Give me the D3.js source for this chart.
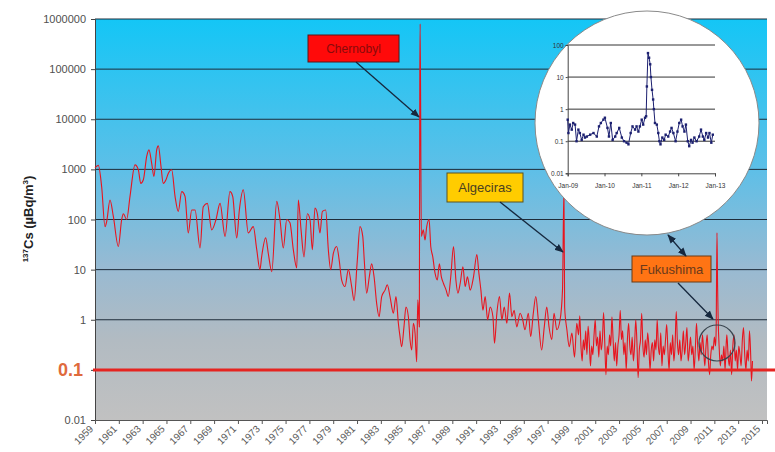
<!DOCTYPE html>
<html lang="en">
<head>
<meta charset="utf-8">
<title>137Cs</title>
<script src="https://d3js.org/d3.v7.min.js"></script>
<style>
  body { margin: 0; background: #fff; }
  svg { display: block; font-family: Arial, "Liberation Sans", sans-serif; }
</style>
</head>
<body>
<div id="chart"></div>
<script>

// y axis decades and x axis years
const yTicks = [0.01, 0.1, 1, 10, 100, 1000, 10000, 100000, 1000000];
const xTicks = d3.range(1959, 2016, 2);

// [year, µBq/m3]
const bombTests = [
  [1959.00,1070],[1959.28,1200],[1959.56,450],[1959.84,72],[1959.98,91],[1960.26,245],[1960.54,115],
  [1960.96,29],[1961.24,100],[1961.38,130],[1961.66,100],[1961.94,290],[1962.36,1230],[1962.64,980],
  [1962.84,525],[1963.06,620],[1963.34,1820],[1963.53,2450],[1963.76,1320],[1963.95,720],[1964.18,2450],
  [1964.32,2950],[1964.54,1150],[1964.73,525],[1964.96,620],[1965.15,830],[1965.44,980],[1965.72,290],
  [1965.99,145],[1966.28,360],[1966.56,290],[1966.83,54],[1967.12,155],[1967.40,155],[1967.82,27],
  [1968.09,180],[1968.43,210],[1968.80,62],[1969.16,100],[1969.50,210],[1969.92,46],[1970.33,360],
  [1970.56,290],[1970.90,43],[1971.12,155],[1971.45,390],[1971.87,54],[1972.29,72],[1972.58,25],
  [1972.85,10],[1972.99,18],[1973.33,43],[1973.55,21],[1973.84,9.1],[1974.26,230],[1974.53,100],
  [1974.81,27],[1975.10,100],[1975.37,86],[1975.65,25],[1975.94,10.8],[1976.07,245],[1976.30,62],
  [1976.55,18],[1976.83,130],[1977.05,100],[1977.25,25],[1977.47,170],[1977.67,130],[1977.89,54],
  [1978.09,145],[1978.37,155],[1978.59,25],[1978.79,10],[1979.01,21],[1979.29,29],[1979.51,15],
  [1979.71,6.2],[1979.99,4.6],[1980.27,10],[1980.55,4.6],[1980.75,2.4],[1981.02,15],[1981.25,72],
  [1981.48,46],[1981.61,15],[1981.81,3.4],[1982.03,7.2],[1982.23,13],[1982.43,7.2],[1982.65,2.1],
  [1982.85,1.15],[1983.07,2.9],[1983.35,3.9],[1983.54,5.0],[1983.77,2.9],[1984.05,1.35],[1984.27,2.9],
  [1984.47,0.85],[1984.61,0.46],[1984.75,0.29],[1984.94,0.72],[1985.11,1.8],[1985.31,1.15],[1985.45,0.40],
  [1985.59,0.25],[1985.73,0.85],[1985.87,0.54],[1986.01,0.145],[1986.10,2.5],[1986.23,0.72]
];

const chernobyl = [
  [1986.27,60000],[1986.30,800000],[1986.40,46],[1986.56,62],[1986.71,39],[1986.85,72],[1987.05,100],
  [1987.19,29],[1987.36,18],[1987.55,8.5],[1987.74,6.2],[1987.91,13],[1988.08,7.2],[1988.26,5.3],
  [1988.48,3.9],[1988.66,2.9],[1988.87,7.2],[1989.10,29],[1989.30,6.2],[1989.47,3.4],[1989.66,5.3],
  [1989.89,11.4],[1990.08,4.6],[1990.27,7.2],[1990.50,3.9],[1990.78,7.2],[1991.06,20],[1991.23,8.5],
  [1991.40,3.9],[1991.57,1.55],[1991.76,2.9],[1991.96,1.0],[1992.18,1.8],[1992.41,1.15],[1992.54,0.34],
  [1992.74,1.35],[1992.96,2.9],[1993.16,1.0],[1993.36,1.8],[1993.58,0.85],[1993.80,3.4],[1994.00,1.15],
  [1994.19,1.55],[1994.41,0.72],[1994.69,1.35],[1994.91,1.0],[1995.10,0.63],[1995.38,1.35],[1995.58,0.46],
  [1995.80,1.35],[1996.01,2.9],[1996.22,1.0],[1996.50,0.25],[1996.72,0.72],[1996.93,1.8],[1997.12,0.72],
  [1997.35,0.40],[1997.54,1.35],[1997.77,0.63],[1998.05,1.0],[1998.25,3.9]
];

const recent = [
  [1998.37,400],[1998.43,1.8],[1998.62,0.63],[1998.82,0.29],[1999.04,0.54],[1999.26,0.18],[1999.45,0.85],
  [1999.6,0.5],[1999.7,1.2],[1999.8,0.3],[1999.9,0.15],[2000.0,0.4],[2000.1,0.25],[2000.2,0.6],[2000.3,0.2],
  [2000.4,0.75],[2000.5,0.35],[2000.6,0.12],[2000.7,0.3],[2000.8,0.2],[2000.9,0.5],[2001.0,1.0],[2001.1,0.3],
  [2001.2,0.45],[2001.3,0.18],[2001.4,0.6],[2001.5,0.25],[2001.6,0.4],[2001.7,1.4],[2001.8,0.35],[2001.9,0.08],
  [2002.0,0.3],[2002.1,0.2],[2002.2,0.5],[2002.3,0.3],[2002.4,1.15],[2002.5,0.4],[2002.6,0.15],[2002.7,0.35],
  [2002.8,0.12],[2002.9,0.3],[2003.0,0.5],[2003.1,1.55],[2003.2,0.4],[2003.3,0.6],[2003.4,0.2],[2003.5,0.35],
  [2003.6,0.1],[2003.7,0.4],[2003.8,0.85],[2003.9,0.3],[2004.0,0.2],[2004.1,0.45],[2004.2,0.15],[2004.3,0.3],
  [2004.4,1.0],[2004.5,0.35],[2004.6,0.07],[2004.7,0.25],[2004.8,0.4],[2004.9,1.35],[2005.0,0.3],[2005.1,0.18],
  [2005.2,0.4],[2005.3,0.2],[2005.4,0.55],[2005.5,0.3],[2005.6,0.1],[2005.7,0.25],[2005.8,0.35],[2005.9,0.15],
  [2006.0,0.4],[2006.1,0.25],[2006.2,1.0],[2006.3,0.3],[2006.4,0.2],[2006.5,0.55],[2006.6,0.12],[2006.7,0.3],
  [2006.8,0.2],[2006.9,0.4],[2007.0,0.8],[2007.1,0.25],[2007.2,0.1],[2007.3,0.35],[2007.4,0.2],[2007.5,0.5],
  [2007.6,0.15],[2007.7,0.3],[2007.8,1.45],[2007.9,0.35],[2008.0,0.2],[2008.1,0.4],[2008.2,0.15],[2008.3,0.25],
  [2008.4,0.6],[2008.5,0.2],[2008.6,0.35],[2008.7,0.7],[2008.8,0.15],[2008.9,0.25],[2009.0,0.45],[2009.1,0.2],
  [2009.2,0.3],[2009.3,0.1],[2009.4,0.25],[2009.5,0.85],[2009.6,0.3],[2009.7,0.15],[2009.8,0.35],[2009.9,0.2],
  [2010.0,0.5],[2010.1,0.25],[2010.2,0.12],[2010.3,0.3],[2010.4,0.5],[2010.5,0.15],[2010.6,0.08],[2010.7,0.2],
  [2010.8,0.3],[2010.9,0.25],[2011.0,0.45],[2011.1,0.3],[2011.15,0.6],[2011.22,54],[2011.27,5],[2011.32,1.0],
  [2011.4,0.3],[2011.5,0.12],[2011.6,0.2],[2011.7,0.15],[2011.8,0.3],[2011.9,0.1],[2012.0,0.35],[2012.05,0.5],
  [2012.15,0.2],[2012.25,0.12],[2012.35,0.25],[2012.45,0.08],[2012.55,0.3],[2012.65,0.5],[2012.75,0.15],
  [2012.85,0.25],[2012.95,0.1],[2013.05,0.3],[2013.15,0.2],[2013.25,0.12],[2013.35,0.4],[2013.45,0.7],
  [2013.55,0.2],[2013.65,0.1],[2013.75,0.25],[2013.85,0.15],[2013.95,0.6],[2014.05,0.2],[2014.12,0.06],[2014.2,0.15]
];

// zoomed inset 2009-2012
const insetTicksY = [0.01, 0.1, 1, 10, 100];
const insetTicksX = [2009, 2010, 2011, 2012, 2013];
const insetLabels = ["Jan-09", "Jan-10", "Jan-11", "Jan-12", "Jan-13"];
const insetData = [
  [2009.00,0.47],[2009.02,0.18],[2009.06,0.33],[2009.11,0.23],[2009.15,0.37],[2009.20,0.33],[2009.24,0.10],
  [2009.29,0.23],[2009.33,0.18],[2009.38,0.11],[2009.43,0.16],[2009.47,0.13],[2009.52,0.14],[2009.61,0.16],
  [2009.70,0.18],[2009.79,0.14],[2009.85,0.29],[2009.90,0.37],[2009.97,0.47],[2010.01,0.54],[2010.08,0.26],
  [2010.12,0.14],[2010.17,0.37],[2010.22,0.11],[2010.29,0.14],[2010.33,0.18],[2010.40,0.26],[2010.47,0.13],
  [2010.53,0.10],[2010.60,0.09],[2010.65,0.08],[2010.71,0.18],[2010.76,0.29],[2010.83,0.23],[2010.87,0.29],
  [2010.92,0.20],[2010.96,0.29],[2011.01,0.47],[2011.05,0.33],[2011.10,0.54],[2011.13,0.60],[2011.15,5.1],
  [2011.18,56],[2011.21,40],[2011.24,25],[2011.26,10],[2011.29,4],[2011.32,2],[2011.34,1.0],[2011.37,0.37],
  [2011.42,0.33],[2011.46,0.18],[2011.49,0.10],[2011.52,0.08],[2011.57,0.13],[2011.62,0.11],[2011.66,0.16],
  [2011.73,0.14],[2011.78,0.20],[2011.82,0.26],[2011.87,0.18],[2011.93,0.10],[2011.98,0.20],[2012.03,0.37],
  [2012.08,0.47],[2012.12,0.29],[2012.17,0.20],[2012.21,0.33],[2012.26,0.10],[2012.30,0.07],[2012.35,0.11],
  [2012.39,0.09],[2012.44,0.13],[2012.50,0.10],[2012.57,0.14],[2012.62,0.23],[2012.67,0.14],[2012.71,0.11],
  [2012.76,0.18],[2012.81,0.13],[2012.85,0.18],[2012.90,0.09],[2012.94,0.16]
];

const W = 775, H = 452;
const plot = {left: 95, right: 767, top: 19, bottom: 420};

const svg = d3.select("#chart").append("svg")
  .attr("width", W).attr("height", H);

const defs = svg.append("defs");
const grad = defs.append("linearGradient")
  .attr("id", "bg").attr("x1", 0).attr("y1", 0).attr("x2", 0).attr("y2", 1);
[[0, "#14c6f6"], [0.38, "#5fbfe7"], [0.62, "#98bad2"], [0.8, "#b2bbc2"], [1, "#c1c1c1"]]
  .forEach(s => grad.append("stop").attr("offset", s[0]).attr("stop-color", s[1]));

defs.append("marker")
  .attr("id", "arr").attr("viewBox", "0 0 10 10").attr("refX", 9).attr("refY", 5)
  .attr("markerWidth", 7).attr("markerHeight", 7).attr("orient", "auto-start-reverse")
  .append("path").attr("d", "M0,1L10,5L0,9Z").attr("fill", "#16283e");

const x = d3.scaleLinear().domain([1959, 2015.42]).range([plot.left, plot.right]);
const y = d3.scaleLog().domain([0.01, 1000000]).range([plot.bottom, plot.top]);

svg.append("rect")
  .attr("x", plot.left).attr("y", plot.top)
  .attr("width", plot.right - plot.left).attr("height", plot.bottom - plot.top)
  .attr("fill", "url(#bg)");

// gridlines
svg.append("g").selectAll("line").data(yTicks.slice(1)).join("line")
  .attr("x1", plot.left).attr("x2", plot.right)
  .attr("y1", d => y(d)).attr("y2", d => y(d))
  .attr("stroke", "#1e2c3a").attr("stroke-width", 1);

// y axis
const yAxis = svg.append("g")
  .attr("transform", `translate(${plot.left},0)`)
  .call(d3.axisLeft(y).tickValues(yTicks).tickSize(4).tickPadding(5)
    .tickFormat(d => d === 0.1 ? "" : (d < 1 ? String(d) : d3.format("d")(d))));
yAxis.select(".domain").attr("stroke", "#444");
yAxis.selectAll(".tick line").attr("stroke", "#444");
yAxis.selectAll("text").attr("font-size", 11).attr("fill", "#505050")
  .attr("font-family", "Arial, 'Liberation Sans', sans-serif");

svg.append("text")
  .attr("x", 83).attr("y", y(0.1)).attr("dy", "0.36em")
  .attr("text-anchor", "end").attr("font-size", 18).attr("font-weight", "bold")
  .attr("fill", "#df6a3c").text("0.1");

// x axis
const xAxis = svg.append("g")
  .attr("transform", `translate(0,${plot.bottom})`)
  .call(d3.axisBottom(x).tickValues(xTicks).tickSize(4).tickFormat(d3.format("d")));
xAxis.select(".domain").attr("stroke", "#555");
xAxis.selectAll(".tick line").attr("stroke", "#555");
xAxis.selectAll("text")
  .attr("x", 0).attr("y", 0).attr("dy", "0.35em")
  .attr("text-anchor", "end")
  .attr("transform", "translate(-4,7) rotate(-45)")
  .attr("font-size", 10).attr("fill", "#5a5a5a")
  .attr("font-family", "Arial, 'Liberation Sans', sans-serif");

// y title
const yt = svg.append("text")
  .attr("transform", "translate(33,219) rotate(-90)")
  .attr("text-anchor", "middle").attr("font-weight", "bold").attr("font-size", 13).attr("fill", "#222");
yt.append("tspan").attr("font-size", 8).attr("dy", -5).text("137");
yt.append("tspan").attr("dy", 5).text("Cs (µBq/m");
yt.append("tspan").attr("font-size", 8).attr("dy", -5).text("3");
yt.append("tspan").attr("dy", 5).text(")");

// series
const line = d3.line().x(d => x(d[0])).y(d => y(d[1])).curve(d3.curveMonotoneX);
const series = bombTests.concat(chernobyl, recent);
svg.append("path").datum(series)
  .attr("d", line).attr("fill", "none")
  .attr("stroke", "#e8141e").attr("stroke-width", 1.1);

// 0.1 reference line
svg.append("line")
  .attr("x1", plot.left - 2).attr("x2", W)
  .attr("y1", y(0.1)).attr("y2", y(0.1))
  .attr("stroke", "#e52420").attr("stroke-width", 3);

// annotation boxes
function box(x0, y0, w, h, fill, border, label, color, fs) {
  svg.append("rect").attr("x", x0).attr("y", y0).attr("width", w).attr("height", h)
    .attr("fill", fill).attr("stroke", border).attr("stroke-width", 1);
  svg.append("text").attr("x", x0 + w / 2).attr("y", y0 + h / 2).attr("dy", "0.36em")
    .attr("text-anchor", "middle").attr("font-size", fs).attr("fill", color).text(label);
}
function arrow(x1, y1, x2, y2, both) {
  const l = svg.append("line").attr("x1", x1).attr("y1", y1).attr("x2", x2).attr("y2", y2)
    .attr("stroke", "#16283e").attr("stroke-width", 1.3).attr("marker-end", "url(#arr)");
  if (both) l.attr("marker-start", "url(#arr)");
}

box(308, 35, 91, 27, "#ff0a0a", "#5a1616", "Chernobyl", "#8a0a0a", 12);
arrow(356, 62, 419, 117);
box(447, 173, 76, 29, "#ffcc00", "#5a5220", "Algeciras", "#4a4020", 13);
arrow(500, 202, 563, 252);
box(632, 256, 79, 26, "#ff7414", "#6a3a14", "Fukushima", "#6a3a1c", 13);
arrow(678, 283, 713, 319);

svg.append("circle").attr("cx", 717).attr("cy", 343).attr("r", 18)
  .attr("fill", "none").attr("stroke", "#3a4650").attr("stroke-width", 1.2);

// inset
svg.append("circle").attr("cx", 647).attr("cy", 123).attr("r", 112)
  .attr("fill", "#fff").attr("stroke", "#8a8a8a").attr("stroke-width", 1);
arrow(668, 235, 686, 256, true);

const xi = d3.scaleLinear().domain([2009, 2013]).range([567.7, 715]);
const yi = d3.scaleLog().domain([0.01, 100]).range([173.3, 45]);
const inset = svg.append("g");

inset.selectAll("line.g").data(insetTicksY.slice(1)).join("line")
  .attr("x1", xi(2009)).attr("x2", xi(2013))
  .attr("y1", d => yi(d)).attr("y2", d => yi(d))
  .attr("stroke", "#333").attr("stroke-width", 1);

const iy = inset.append("g").attr("transform", `translate(${xi(2009)},0)`)
  .call(d3.axisLeft(yi).tickValues(insetTicksY).tickSize(2).tickPadding(2)
    .tickFormat(d => String(d)));
const ix = inset.append("g").attr("transform", `translate(0,${yi(0.01)})`)
  .call(d3.axisBottom(xi).tickValues(insetTicksX).tickSize(3).tickPadding(7)
    .tickFormat((d, i) => insetLabels[i]));
[iy, ix].forEach(a => {
  a.select(".domain").attr("stroke", "#444");
  a.selectAll(".tick line").attr("stroke", "#444");
  a.selectAll("text").attr("font-size", 6.5).attr("fill", "#333")
    .attr("font-family", "Arial, 'Liberation Sans', sans-serif");
});

const iline = d3.line().x(d => xi(d[0])).y(d => yi(d[1]));
inset.append("path").datum(insetData).attr("d", iline)
  .attr("fill", "none").attr("stroke", "#1c2070").attr("stroke-width", 1);
inset.selectAll("rect.m").data(insetData).join("rect")
  .attr("x", d => xi(d[0]) - 1.2).attr("y", d => yi(d[1]) - 1.2)
  .attr("width", 2.4).attr("height", 2.4).attr("fill", "#1c2070");

</script>
</body>
</html>
